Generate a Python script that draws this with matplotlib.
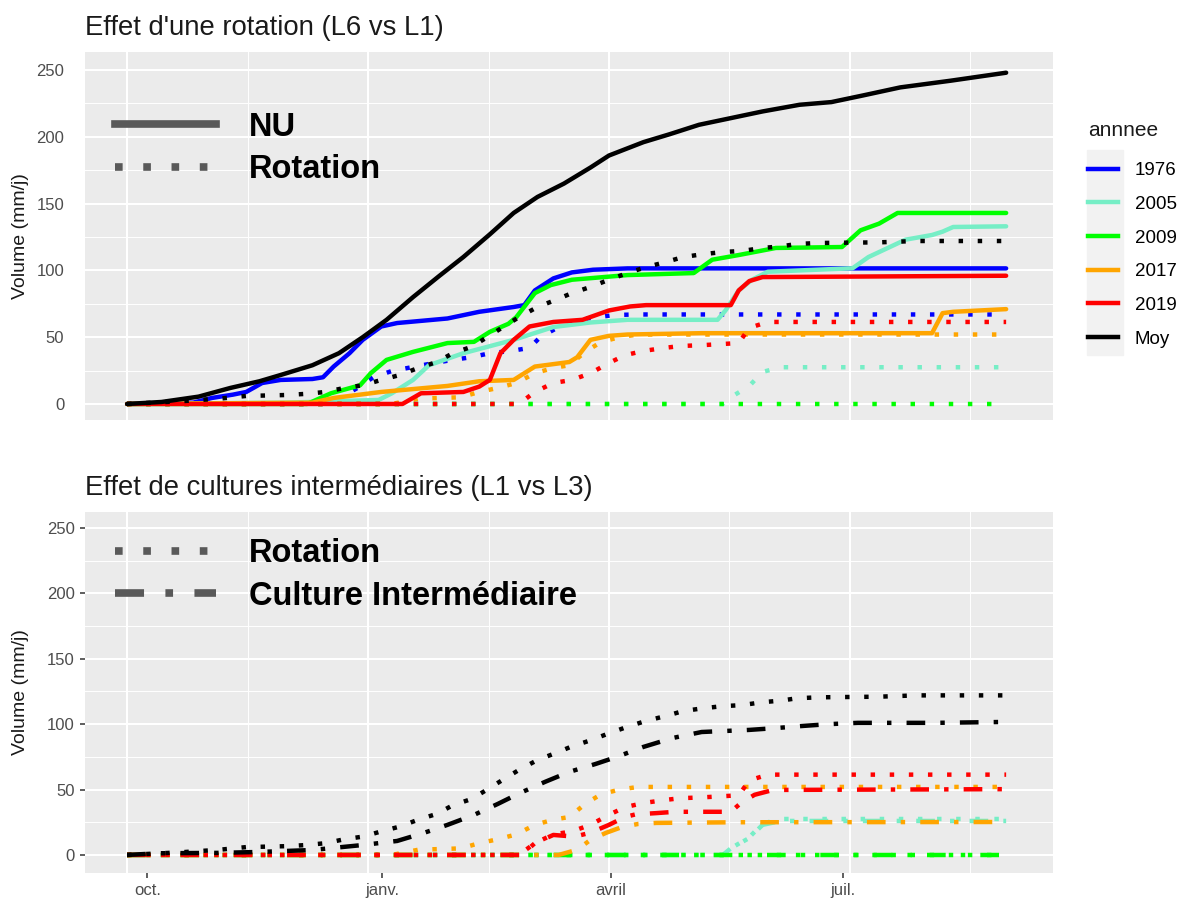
import matplotlib
matplotlib.use('Agg')
import matplotlib.pyplot as plt
from matplotlib.lines import Line2D
from matplotlib.patches import Rectangle

plt.rcParams['font.family'] = ['Liberation Sans', 'DejaVu Sans']

# x = days since 1 October
YEARS = ['1976', '2005', '2009', '2017', '2019', 'Moy']
YEAR_COLORS = ['#0000FF', '#76EEC6', '#00FF00', '#FFA500', '#FF0000', '#000000']
MONTH_LABELS = ['oct.', 'janv.', 'avril', 'juil.']
MONTH_TICKS = [7.6, 96.3, 182.8, 270.4]
GRID_MAJOR = [0, 91, 182, 273]
GRID_MINOR = [45.5, 136.5, 227.5, 318.5]

# Top panel: sol nu (solid)
NU_1976 = [(0, 0), (25, 1), (32, 4.5), (40, 7), (45, 9), (51, 15.7), (58, 18), (70, 18.7),
           (74, 20), (78, 28), (84, 38), (89, 48), (96, 58), (102, 60.6), (121, 64), (133, 69),
           (146, 72.6), (150, 74), (154, 85), (161, 94), (168, 98.5), (176, 100.5),
           (189, 101.5), (332, 101.5)]
NU_2005 = [(0, 0), (60, 1), (95, 3), (100, 8), (108, 18), (114, 29), (127, 38), (146, 48),
           (161, 57.6), (175, 61), (189, 63), (223, 63), (226, 70), (231, 85), (236, 93),
           (242, 99), (274, 101.6), (280, 110), (294, 123), (304, 126.5), (308, 129),
           (312, 132.5), (332, 133)]
NU_2009 = [(0, 0), (68, 0), (77, 8), (88, 14), (92, 23), (98, 33), (108, 39), (121, 45.6),
           (131, 46.5), (137, 54), (144, 60), (147, 65), (154, 83), (160, 89), (168, 93),
           (189, 96.5), (214, 98), (221, 108), (231, 111.5), (245, 116.8), (270, 117.5),
           (277, 130), (284, 135), (291, 143), (332, 143)]
NU_2017 = [(0, 0), (70, 1), (78, 4.5), (96, 9), (121, 13.5), (133, 17), (146, 18), (154, 28),
           (167, 31.4), (170, 35), (175, 48), (182, 51), (189, 52), (217, 53), (304, 53),
           (308, 68), (312, 69), (332, 71)]
NU_2019 = [(0, 0), (104, 0), (111, 8), (127, 9), (133, 13), (137, 18), (141, 38), (146, 48),
           (152, 58), (161, 61.4), (172, 63), (182, 70), (190, 73), (196, 74), (228, 74),
           (231, 85), (235, 92), (240, 95), (332, 96)]
NU_MOY = [(0, 0), (13, 1.5), (27, 5.5), (39, 12), (50, 17), (58, 21.7), (70, 29), (80, 38),
          (89, 50), (98, 63), (108, 80), (118, 96), (127, 110), (137, 127), (146, 143),
          (155, 155), (165, 165), (175, 177), (182, 186), (195, 196), (205, 202), (216, 209),
          (228, 214), (240, 219), (254, 224), (266, 226), (278, 231), (292, 237), (311, 242),
          (332, 248)]

# Rotation (dotted, both panels)
ROT_1976 = [(0, 0), (75, 0), (80, 4), (87, 12), (93, 20), (100, 24.7), (108, 27.7),
            (116, 30.7), (123, 33), (130, 35), (137, 38), (145, 39.7), (152, 42), (156, 50),
            (163, 57.6), (170, 63), (184, 66.6), (192, 67), (332, 67)]
ROT_2005 = [(0, 0), (225, 0), (228, 5), (235, 13.5), (240, 24), (247, 27.5), (332, 27.5)]
ROT_2009 = [(0, 0), (332, 0)]
ROT_2017 = [(0, 0), (100, 0), (110, 4), (126, 5), (133, 9), (140, 12), (147, 15.7), (154, 23),
            (161, 27), (167, 29), (173, 39), (179, 46.4), (186, 50), (193, 52), (332, 52)]
ROT_2019 = [(0, 0), (148, 0), (154, 9), (161, 15.7), (168, 18), (175, 23), (182, 30.7),
            (188, 36.5), (195, 39.7), (203, 42), (209, 43.4), (217, 44), (231, 45.6),
            (235, 57), (242, 61.4), (332, 61.4)]
ROT_MOY = [(0, 0), (20, 2), (35, 4), (45, 6), (60, 6.7), (67, 7.5), (75, 9), (82, 12), (89, 14),
           (96, 18), (103, 21.7), (110, 27), (117, 31.4), (123, 38), (130, 42.7), (136, 50),
           (142, 57.6), (148, 65), (155, 72.6), (162, 78), (168, 83), (175, 87.6), (182, 93),
           (189, 98), (196, 102.5), (203, 106), (210, 110), (217, 112), (225, 113.8),
           (232, 114.5), (240, 116.8), (247, 118), (253, 119.8), (261, 120.5), (269, 120.7),
           (284, 121), (298, 122), (332, 122)]

# Bottom panel: culture intermediaire (dot-dash)
CI_2005 = [(0, 0), (225, 0), (228, 5), (235, 13), (240, 23), (247, 26), (332, 26)]
CI_2009 = [(0, 0), (332, 0)]
CI_2017 = [(0, 0), (163, 0), (170, 4), (175, 11.5), (181, 17), (187, 21.4), (193, 23.7),
           (200, 24.5), (231, 25), (332, 25.2)]
CI_2019 = [(0, 0), (149, 0), (154, 9), (161, 15.3), (169, 14), (175, 17), (182, 23), (188, 29),
           (192, 31), (200, 32), (207, 33), (228, 33), (232, 40), (237, 46), (244, 49.7),
           (332, 50.3)]
CI_MOY = [(0, 0), (12, 1.3), (35, 1.6), (50, 2.3), (70, 3.8), (89, 7.6), (102, 10.7),
          (112, 16.8), (121, 23), (131, 30.6), (140, 39), (148, 47), (158, 56), (167, 63.5),
          (177, 69.6), (185, 75), (195, 82.6), (206, 89.4), (217, 94), (226, 94.8),
          (235, 95.6), (245, 97), (255, 98.6), (265, 100), (276, 101), (305, 101),
          (332, 101.7)]

NU = [NU_1976, NU_2005, NU_2009, NU_2017, NU_2019, NU_MOY]
ROT = [ROT_1976, ROT_2005, ROT_2009, ROT_2017, ROT_2019, ROT_MOY]
CI = [None, CI_2005, CI_2009, CI_2017, CI_2019, CI_MOY]

LW = 3.2
DOTTED = (0, (1, 3.3))
DOTDASH = (0, (4.2, 3.4, 1, 3.4))
GREY_KEY = '#595959'
W, H = 1184, 907


def draw(ax, points, color, style):
    days, vals = zip(*points)
    ax.plot(days, vals, color=color, lw=LW, linestyle=style,
            solid_capstyle='round', solid_joinstyle='round', zorder=3)


def style_axes(ax, ylim, tick_marks):
    ax.set_facecolor('#EBEBEB')
    for s in ax.spines.values():
        s.set_visible(False)
    ax.set_xlim(-15.9, 349.7)
    ax.set_ylim(*ylim)
    ax.set_yticks(range(0, 251, 50))
    ax.set_yticks(range(25, 250, 50), minor=True)
    ax.grid(which='major', axis='y', color='white', lw=1.5, zorder=0)
    ax.grid(which='minor', axis='y', color='white', lw=0.7, zorder=0)
    for d in GRID_MAJOR:
        ax.axvline(d, color='white', lw=1.5, zorder=0.5)
    for d in GRID_MINOR:
        ax.axvline(d, color='white', lw=0.7, zorder=0.5)
    ax.tick_params(axis='y', which='minor', length=0)
    if tick_marks:
        ax.tick_params(axis='both', which='major', length=3.5, width=1.1,
                       color='#333333', labelsize=12, labelcolor='#4D4D4D', pad=4)
    else:
        ax.tick_params(axis='y', which='major', length=0, labelsize=12,
                       labelcolor='#4D4D4D', pad=15)
    ax.set_ylabel('Volume (mm/j)', fontsize=14, color='#1A1A1A')
    ax.yaxis.set_label_coords(-56 / 968, 0.5)


fig = plt.figure(figsize=(W / 100, H / 100), dpi=100)
ax_top = fig.add_axes([85 / W, 1 - 420 / H, 968 / W, 368 / H])
ax_bot = fig.add_axes([85 / W, 1 - 873 / H, 968 / W, 361 / H])

style_axes(ax_top, (-12, 263.5), False)
ax_top.set_xticks([])
style_axes(ax_bot, (-13.8, 262.2), True)
ax_bot.set_xticks(MONTH_TICKS, MONTH_LABELS)

for year, color, nu, rot, ci in zip(YEARS, YEAR_COLORS, NU, ROT, CI):
    draw(ax_top, nu, color, '-')
    draw(ax_top, rot, color, DOTTED)
    if ci is not None:
        draw(ax_bot, rot, color, DOTTED)
        draw(ax_bot, ci, color, DOTDASH)

ax_top.set_title("Effet d'une rotation (L6 vs L1)", loc='left', fontsize=19.8,
                 color='#1A1A1A', x=0.0, pad=12)
ax_bot.set_title("Effet de cultures intermédiaires (L1 vs L3)", loc='left', fontsize=19.8,
                 color='#1A1A1A', x=0.0, pad=12)

# linetype legends inside the panels
dot_key = Line2D([], [], color=GREY_KEY, lw=5.5, linestyle=(0, (1, 2.7)))
solid_key = Line2D([], [], color=GREY_KEY, lw=5.5)
dash_key = Line2D([], [], color=GREY_KEY, lw=5.5, linestyle=(0, (3.8, 2.8, 1, 2.8)))
for ax, handles, labels, top in [
        (ax_top, [solid_key, dot_key], ['NU', 'Rotation'], 0.838),
        (ax_bot, [dot_key, dash_key], ['Rotation', 'Culture Intermédiaire'], 0.928)]:
    leg = ax.legend(handles, labels, loc='upper left', bbox_to_anchor=(0.031, top),
                    frameon=False, prop={'weight': 'bold', 'size': 23.5},
                    handlelength=3.1, handletextpad=1.0, labelspacing=0.36,
                    borderpad=0, borderaxespad=0)
    for t in leg.get_texts():
        t.set_color('black')

# colour legend
fig.text(1088 / W, 1 - 130 / H, 'annnee', fontsize=15, color='#1A1A1A', va='center')
fig.patches.append(Rectangle((1087 / W, 1 - 355 / H), 36 / W, 205 / H,
                             transform=fig.transFigure, color='#F2F2F2', zorder=0))
year_keys = [Line2D([], [], color=c, lw=3.2) for c in YEAR_COLORS]
fig.legend(year_keys, YEARS, loc='upper left',
           bbox_to_anchor=(1088 / W, 1 - 162 / H), frameon=False, fontsize=13.5,
           handlelength=1.6, handletextpad=0.9, labelspacing=0.885,
           borderpad=0, borderaxespad=0)

fig.savefig('out.png', dpi=100)
